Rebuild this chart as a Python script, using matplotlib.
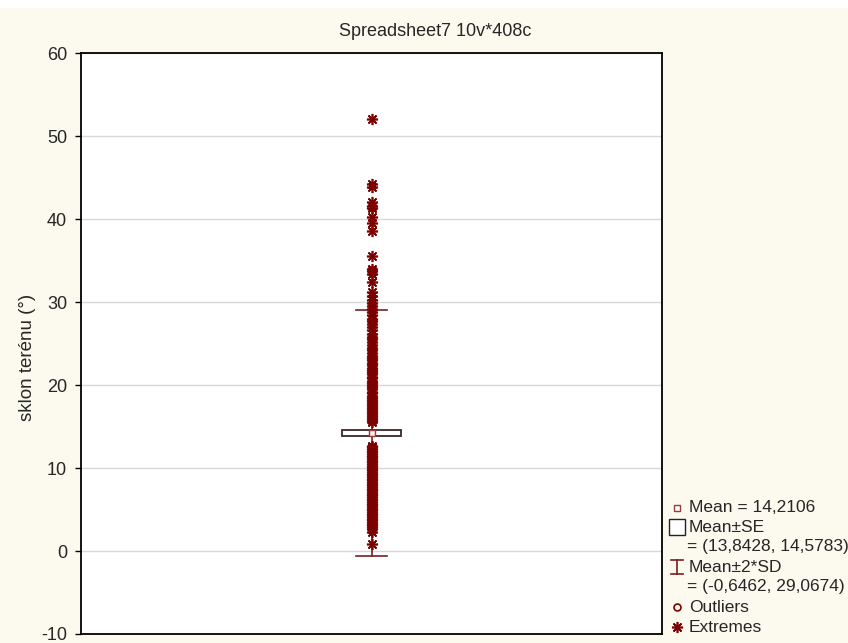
import matplotlib
matplotlib.use("Agg")
import matplotlib.pyplot as plt
from matplotlib.lines import Line2D
from matplotlib.patches import Rectangle

# --- data ---
title = "Spreadsheet7 10v*408c"
y_label = "sklon terénu (°)"
y_ticks = [-10, 0, 10, 20, 30, 40, 50, 60]

mean_val = 14.2106
se_low, se_high = 13.8428, 14.5783
sd_low, sd_high = -0.6462, 29.0674

values_low = [0.8, 2.3, 2.6, 2.9, 3.1, 3.3, 3.5, 3.7, 3.9, 4.1, 4.3, 4.5, 4.7,
              4.9, 5.1, 5.3, 5.5, 5.7, 5.9, 6.1, 6.3, 6.5, 6.7, 6.9, 7.1, 7.3,
              7.5, 7.7, 7.9, 8.1, 8.3, 8.5, 8.7, 8.9, 9.1, 9.3, 9.5, 9.7, 9.9,
              10.1, 10.3, 10.5, 10.7, 10.9, 11.1, 11.3, 11.5, 11.7, 11.9, 12.1,
              12.3, 12.5, 12.7]
values_high = [15.6, 15.8, 16.0, 16.3, 16.5, 16.8, 17.0, 17.2, 17.5, 17.7, 18.0,
               18.2, 18.4, 18.7, 19.0, 19.2, 19.5, 19.7, 20.0, 20.3, 20.5, 20.8,
               21.0, 21.3, 21.6, 21.8, 22.1, 22.4, 22.6, 23.0, 23.3, 23.5, 23.9,
               24.2, 24.5, 24.8, 25.2, 25.5, 25.8, 26.2, 26.6, 27.0, 27.3, 27.7,
               28.0, 28.4, 28.8, 29.1, 29.5, 29.9]
values_top = [30.3, 30.7, 31.2, 32.4, 33.4, 33.7, 34.0, 35.6, 38.5, 39.5, 40.2,
              41.3, 41.6, 42.0, 43.9, 44.2, 52.0]

legend_lines = ["Mean = 14,2106", "Mean±SE", "= (13,8428, 14,5783)",
                "Mean±2*SD", "= (-0,6462, 29,0674)", "Outliers", "Extremes"]

# --- style ---
plt.rcParams['font.family'] = ['Liberation Sans', 'DejaVu Sans']
plt.rcParams['font.size'] = 13
plt.rcParams['axes.unicode_minus'] = False
dark_red = "#7d0000"
text_col = "#262626"
W, H = 848, 643

fig = plt.figure(figsize=(W / 100, H / 100), dpi=100, facecolor="#fcf9ef")
fig.patches.append(Rectangle((0, 1 - 8 / H), 1, 8 / H, transform=fig.transFigure,
                             facecolor="white", edgecolor="none", zorder=0))

ax = fig.add_axes([81 / W, 1 - 634 / H, (662 - 81) / W, (634 - 53) / H])
ax.set_facecolor("white")

all_vals = values_low + values_high + values_top

# whisker (mean +- 2 SD)
ax.plot([0, 0], [sd_low, sd_high], color="#7a1f1f", lw=1.2, zorder=2)
ax.plot([-0.052, 0.052], [sd_low, sd_low], color="#7a1f1f", lw=1.2, zorder=2)
ax.plot([-0.052, 0.052], [sd_high, sd_high], color="#7a1f1f", lw=1.2, zorder=2)

# all points drawn as extremes (asterisks)
ax.plot([0] * len(all_vals), all_vals, linestyle="none", marker=(8, 2, 0),
        markersize=8, markeredgewidth=1.2, color=dark_red, zorder=3)

# mean +- SE box
ax.add_patch(Rectangle((-0.1, se_low), 0.2, se_high - se_low, facecolor="white",
                       edgecolor="#3c2626", lw=1.3, zorder=4))
ax.plot([0], [mean_val], marker="s", markersize=5, markerfacecolor="#fbeaea",
        markeredgecolor="#9b3a3a", markeredgewidth=1, zorder=5)

ax.set_xlim(-1, 1)
ax.set_ylim(-10, 60)
ax.set_yticks(y_ticks)
ax.set_xticks([])
ax.tick_params(axis="y", direction="out", length=4, width=1, colors="black",
               labelcolor=text_col, pad=6)
ax.grid(axis="y", color="#d8d8d8", lw=1)
ax.set_axisbelow(True)
for s in ax.spines.values():
    s.set_color("black")
    s.set_linewidth(1.3)

fig.text(435 / W, 1 - 31 / H, title, ha="center", va="center", color=text_col)
fig.text(28 / W, 1 - 357 / H, y_label, rotation=90, ha="center", va="center",
         color=text_col, fontsize=13.5)

# --- legend, drawn by hand like the original ---
def fx(px):
    return px / W

def fy(py):
    return 1 - py / H

row_y = [508, 527, 547, 567, 587, 607, 627]
mx, tx = 677, 689
for i, txt in enumerate(legend_lines):
    x = tx - 2 if txt.startswith("=") else tx
    fig.text(fx(x), fy(row_y[i]), txt, ha="left", va="center", color=text_col,
             fontsize=12.5)

fig.add_artist(Line2D([fx(mx)], [fy(row_y[0])], marker="s", markersize=5,
                      markerfacecolor="white", markeredgecolor="#9b3a3a"))
fig.add_artist(Line2D([fx(mx)], [fy(row_y[1])], marker="s", markersize=11,
                      markerfacecolor="white", markeredgecolor="#222222",
                      markeredgewidth=1))
yb = row_y[3]
fig.add_artist(Line2D([fx(mx), fx(mx)], [fy(yb - 7), fy(yb + 7)], color="#7a1f1f", lw=1.2))
fig.add_artist(Line2D([fx(mx - 6), fx(mx + 6)], [fy(yb - 7), fy(yb - 7)], color="#7a1f1f", lw=1.2))
fig.add_artist(Line2D([fx(mx - 6), fx(mx + 6)], [fy(yb + 7), fy(yb + 7)], color="#7a1f1f", lw=1.2))
fig.add_artist(Line2D([fx(mx)], [fy(row_y[5])], marker="o", markersize=5,
                      markerfacecolor="none", markeredgecolor=dark_red,
                      markeredgewidth=1.2))
fig.add_artist(Line2D([fx(mx)], [fy(row_y[6])], marker=(8, 2, 0), markersize=8,
                      color=dark_red, markeredgewidth=1.2))

fig.savefig("out.png", dpi=100, facecolor=fig.get_facecolor())
